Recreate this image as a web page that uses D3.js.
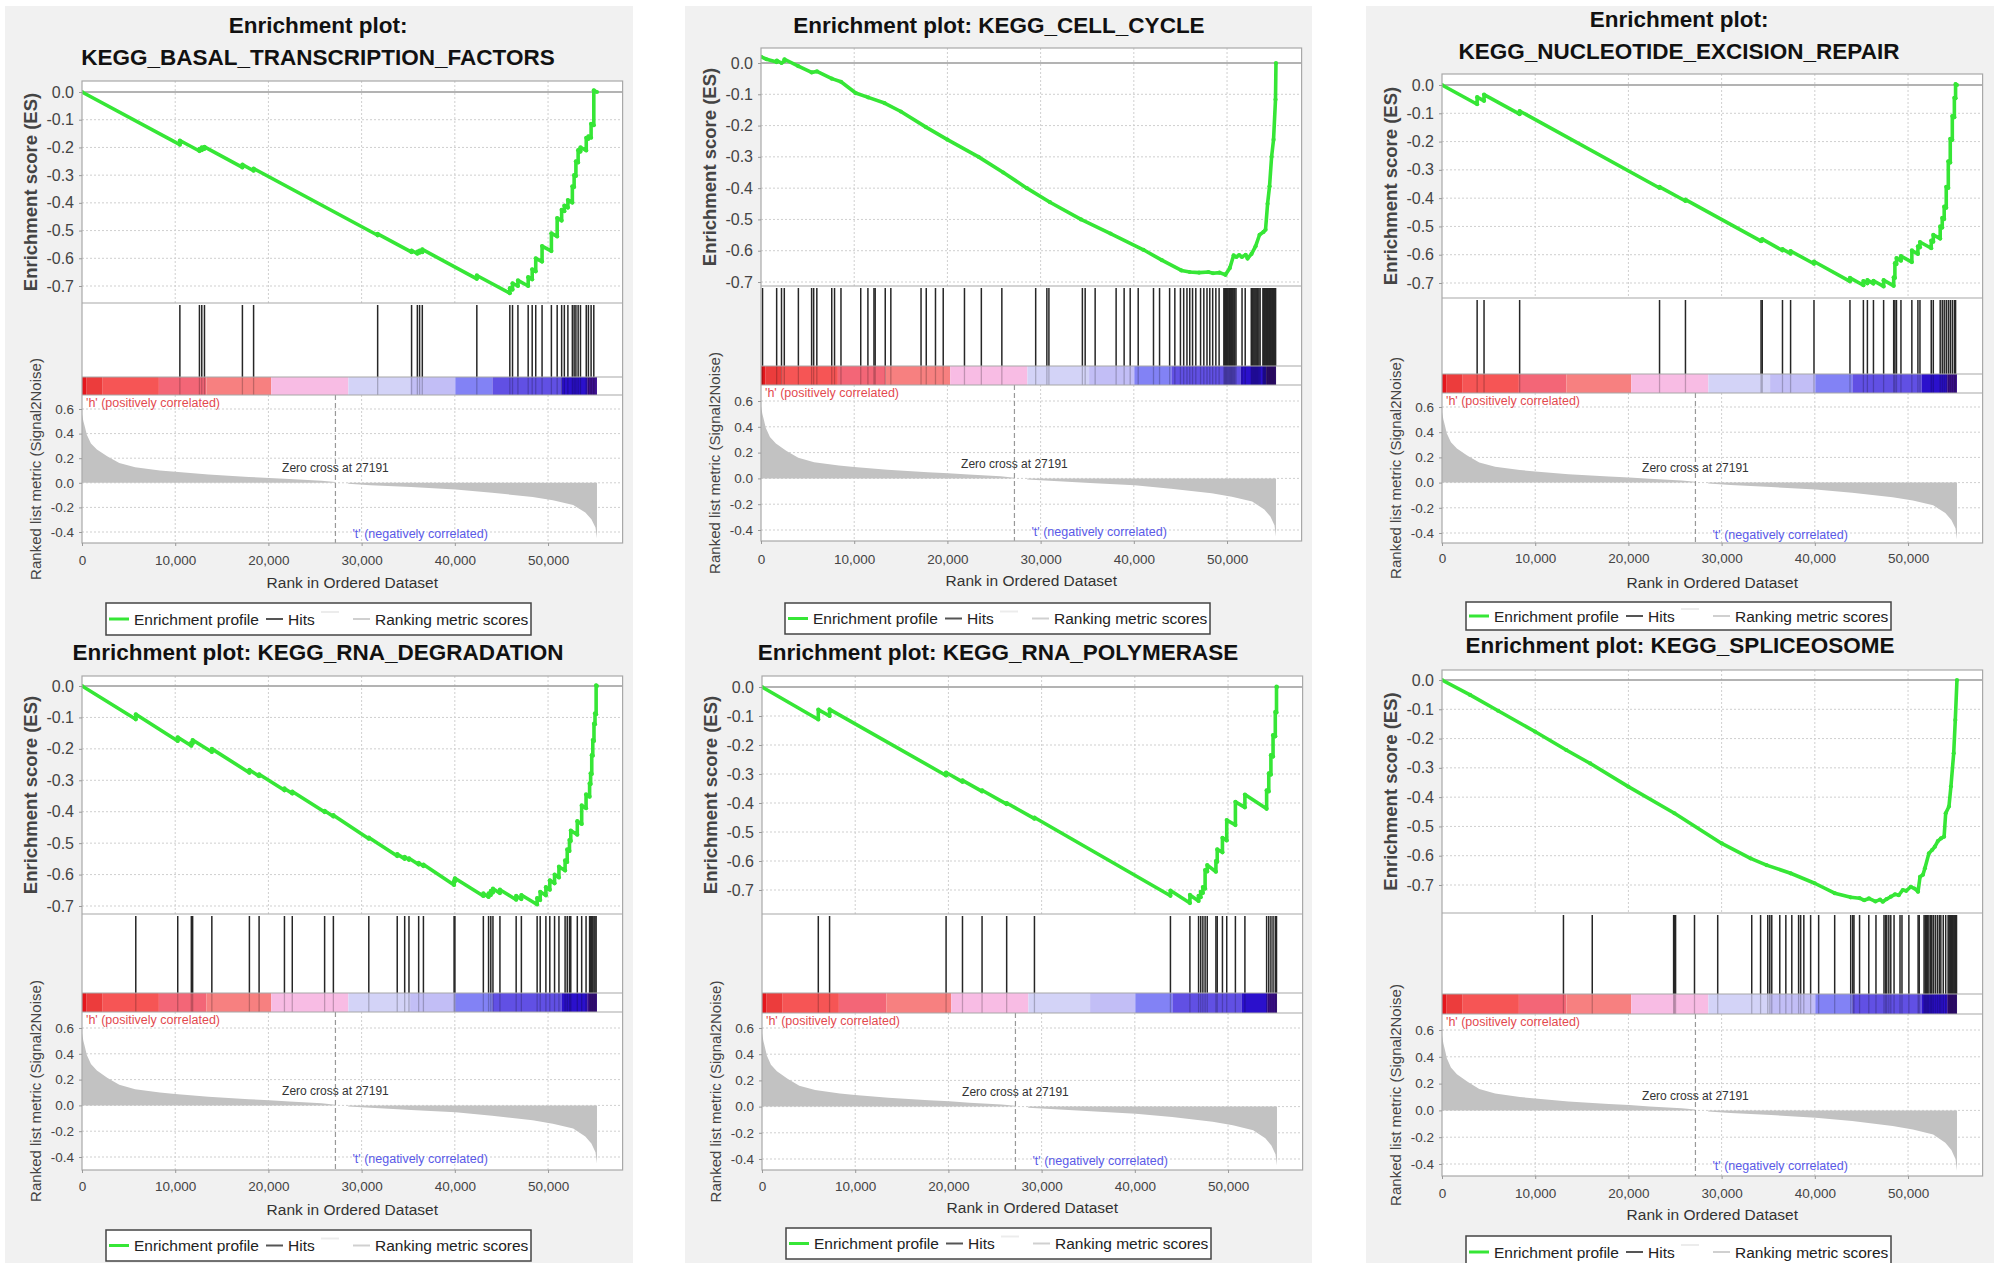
<!DOCTYPE html>
<html><head><meta charset="utf-8">
<script src="https://cdn.jsdelivr.net/npm/d3@7"></script>
<style>html,body{margin:0;padding:0;background:#fff;}svg{display:block;}text{font-family:"Liberation Sans",Arial,sans-serif;}</style>
</head><body><svg id="c" width="2008" height="1263"></svg>
<script>
// ---------------- DATA ----------------
const titles = [
  ["Enrichment plot:", "KEGG_BASAL_TRANSCRIPTION_FACTORS"],
  ["Enrichment plot: KEGG_CELL_CYCLE"],
  ["Enrichment plot:", "KEGG_NUCLEOTIDE_EXCISION_REPAIR"],
  ["Enrichment plot: KEGG_RNA_DEGRADATION"],
  ["Enrichment plot: KEGG_RNA_POLYMERASE"],
  ["Enrichment plot: KEGG_SPLICEOSOME"]
];
const nGenes = 55250;
const zeroCross = 27191;
const xTicks = [0, 10000, 20000, 30000, 40000, 50000];
const esTicks = [0, -0.1, -0.2, -0.3, -0.4, -0.5, -0.6, -0.7];
const metricTicks = [0.6, 0.4, 0.2, 0, -0.2, -0.4];
const legendItems = ["Enrichment profile", "Hits", "Ranking metric scores"];

const es1 = [[0,0],[10500,-0.190],[10500,-0.175],[12600,-0.213],[12600,-0.205],[12850,-0.210],[12850,-0.200],[13140,-0.205],[13140,-0.198],[17210,-0.272],[17210,-0.262],[18410,-0.284],[18410,-0.276],[31720,-0.517],[31720,-0.512],[35360,-0.578],[35360,-0.572],[35980,-0.583],[35980,-0.576],[36220,-0.580],[36220,-0.572],[36510,-0.578],[36510,-0.568],[42360,-0.674],[42360,-0.662],[45900,-0.726],[45900,-0.708],[46190,-0.713],[46190,-0.690],[46770,-0.700],[46770,-0.680],[47870,-0.700],[47870,-0.668],[48300,-0.676],[48300,-0.640],[48680,-0.647],[48680,-0.600],[49360,-0.612],[49360,-0.556],[50360,-0.574],[50360,-0.510],[50980,-0.521],[50980,-0.455],[51460,-0.464],[51460,-0.425],[51750,-0.430],[51750,-0.410],[52130,-0.417],[52130,-0.390],[52610,-0.399],[52610,-0.340],[52800,-0.343],[52800,-0.300],[52990,-0.303],[52990,-0.250],[53230,-0.254],[53230,-0.210],[53480,-0.215],[53480,-0.200],[54100,-0.211],[54100,-0.165],[54330,-0.169],[54330,-0.160],[54620,-0.165],[54620,-0.115],[54910,-0.120],[54910,0.006],[55250,0]];
const es2 = [[0,0.02],[600,0.012],[1680,0.003],[1700,0.008],[2200,0.0],[2500,0.006],[2520,0.012],[4000,-0.01],[5430,-0.03],[6000,-0.027],[7600,-0.05],[8580,-0.06],[10160,-0.096],[11500,-0.11],[13250,-0.128],[15000,-0.155],[17700,-0.205],[20000,-0.245],[23340,-0.3],[26000,-0.35],[28520,-0.4],[31000,-0.445],[34330,-0.5],[37500,-0.545],[41030,-0.597],[43000,-0.63],[45100,-0.663],[46000,-0.668],[47000,-0.67],[48000,-0.668],[48500,-0.672],[49200,-0.67],[49830,-0.677],[50300,-0.655],[50700,-0.615],[51000,-0.62],[51300,-0.614],[51600,-0.62],[52000,-0.613],[52200,-0.625],[52630,-0.61],[53060,-0.586],[53490,-0.549],[53910,-0.54],[54130,-0.533],[54350,-0.45],[54560,-0.394],[54780,-0.3],[54990,-0.245],[55200,-0.117],[55250,0]];
const es3 = [[0,0],[3770,-0.068],[3770,-0.043],[4510,-0.056],[4510,-0.034],[8330,-0.103],[8330,-0.092],[23340,-0.364],[23340,-0.360],[26120,-0.410],[26120,-0.405],[34230,-0.552],[34230,-0.548],[34360,-0.550],[34360,-0.545],[36530,-0.585],[36530,-0.580],[37400,-0.596],[37400,-0.587],[39910,-0.632],[39910,-0.624],[43770,-0.694],[43770,-0.682],[45210,-0.708],[45210,-0.693],[45640,-0.701],[45640,-0.690],[46290,-0.702],[46290,-0.692],[47380,-0.712],[47380,-0.690],[48460,-0.710],[48460,-0.680],[48590,-0.682],[48590,-0.630],[48760,-0.633],[48760,-0.612],[49240,-0.621],[49240,-0.605],[50410,-0.626],[50410,-0.585],[51060,-0.597],[51060,-0.570],[51280,-0.574],[51280,-0.555],[52490,-0.577],[52490,-0.550],[52710,-0.554],[52710,-0.530],[53450,-0.543],[53450,-0.500],[53670,-0.504],[53670,-0.470],[53880,-0.474],[53880,-0.430],[54100,-0.434],[54100,-0.360],[54320,-0.364],[54320,-0.270],[54530,-0.274],[54530,-0.190],[54750,-0.194],[54750,-0.110],[54970,-0.114],[54970,-0.045],[55100,-0.047],[55100,0.003],[55250,0]];
const es4 = [[0,0],[5770,-0.106],[5770,-0.090],[10270,-0.175],[10270,-0.163],[11730,-0.190],[11730,-0.180],[11870,-0.183],[11870,-0.172],[13930,-0.210],[13930,-0.200],[17960,-0.276],[17960,-0.267],[19000,-0.287],[19000,-0.281],[21720,-0.332],[21720,-0.326],[22560,-0.342],[22560,-0.336],[26030,-0.401],[26030,-0.397],[26970,-0.415],[26970,-0.411],[30770,-0.486],[30770,-0.482],[33820,-0.541],[33820,-0.535],[34620,-0.550],[34620,-0.544],[35080,-0.553],[35080,-0.548],[36120,-0.568],[36120,-0.563],[36630,-0.573],[36630,-0.568],[39920,-0.633],[39920,-0.620],[40010,-0.622],[40010,-0.612],[43060,-0.668],[43060,-0.660],[43620,-0.671],[43620,-0.660],[43860,-0.665],[43860,-0.652],[44090,-0.657],[44090,-0.645],[44840,-0.659],[44840,-0.648],[46580,-0.680],[46580,-0.668],[47140,-0.678],[47140,-0.665],[48830,-0.695],[48830,-0.675],[49160,-0.681],[49160,-0.655],[49770,-0.666],[49770,-0.640],[50190,-0.648],[50190,-0.618],[50700,-0.628],[50700,-0.600],[51170,-0.609],[51170,-0.575],[51830,-0.587],[51830,-0.555],[52060,-0.560],[52060,-0.520],[52300,-0.525],[52300,-0.490],[52440,-0.493],[52440,-0.460],[53140,-0.473],[53140,-0.430],[53610,-0.439],[53610,-0.380],[54080,-0.389],[54080,-0.345],[54460,-0.352],[54460,-0.310],[54570,-0.312],[54570,-0.278],[54690,-0.280],[54690,-0.220],[54800,-0.222],[54800,-0.172],[54930,-0.175],[54930,-0.120],[55040,-0.122],[55040,-0.087],[55160,-0.090],[55160,0.002],[55250,0]];
const es5 = [[0,0],[6040,-0.112],[6040,-0.078],[7250,-0.100],[7250,-0.077],[19750,-0.305],[19750,-0.295],[21510,-0.327],[21510,-0.322],[23610,-0.360],[23610,-0.356],[26250,-0.404],[26250,-0.400],[29230,-0.454],[29230,-0.450],[43820,-0.720],[43820,-0.702],[45910,-0.745],[45910,-0.717],[46840,-0.738],[46840,-0.720],[47070,-0.725],[47070,-0.706],[47300,-0.710],[47300,-0.690],[47540,-0.695],[47540,-0.631],[47770,-0.636],[47770,-0.614],[48700,-0.637],[48700,-0.600],[48840,-0.603],[48840,-0.560],[49400,-0.570],[49400,-0.520],[49860,-0.529],[49860,-0.459],[50790,-0.476],[50790,-0.396],[51810,-0.415],[51810,-0.371],[54140,-0.420],[54140,-0.356],[54370,-0.360],[54370,-0.298],[54600,-0.302],[54600,-0.235],[54830,-0.240],[54830,-0.166],[55070,-0.170],[55070,-0.086],[55200,-0.088],[55200,0.001],[55250,0]];
const es6 = [[0,0],[3010,-0.051],[6020,-0.105],[9970,-0.176],[13330,-0.239],[15910,-0.285],[19990,-0.364],[24940,-0.455],[30010,-0.558],[33100,-0.609],[34820,-0.632],[37400,-0.66],[39980,-0.694],[42130,-0.728],[43850,-0.742],[44800,-0.745],[45300,-0.752],[45800,-0.746],[46500,-0.756],[47000,-0.75],[47290,-0.757],[47700,-0.748],[48150,-0.74],[48600,-0.732],[49000,-0.735],[49440,-0.717],[49800,-0.72],[50300,-0.706],[50700,-0.712],[51070,-0.723],[51290,-0.672],[51600,-0.665],[51810,-0.643],[52240,-0.592],[52600,-0.58],[52880,-0.569],[53200,-0.55],[53530,-0.541],[53870,-0.535],[54040,-0.455],[54390,-0.432],[54600,-0.364],[54900,-0.25],[55070,-0.137],[55250,0]];
const esSeries = [es1, es2, es3, es4, es5, es6];

const hits1 = [10500,12600,12850,13140,17210,18410,31720,35360,35980,36220,36510,42360,45900,46190,46770,47870,48300,48680,49360,50360,50980,51460,51750,52130,52610,52800,52990,53230,53480,54100,54330,54620,54910];
const hits2 = [164,1680,2200,2500,4010,5430,5650,5990,7590,7890,8580,10700,11470,12120,12250,13330,13930,17170,17730,18720,19550,21830,23640,25840,29470,30670,30890,34480,34780,35850,38100,38960,39610,40470,42110,42760,43840,44400,45000,45350,45700,46000,46300,46650,47160,47510,47850,48150,48460,48800,49150,49660,49750,49840,49930,50020,50110,50200,50290,50380,50470,50560,50650,50740,50830,50960,51610,51950,52600,52700,52800,52900,53000,53100,53200,53300,53420,53550,53850,53930,54010,54090,54170,54250,54330,54410,54490,54570,54650,54730,54810,54890,54970,55050,55130,55210];
const hits3 = [3770,4510,8330,23340,26120,34230,34360,36530,37400,39910,43770,45210,45640,46290,47380,48460,48590,48760,49240,50410,51060,51280,52490,52710,53450,53670,53880,54100,54320,54530,54750,54970,55100];
const hits4 = [5770,10270,11730,11870,13930,17960,19000,21720,22560,26030,26970,30770,33820,34620,35080,36120,36630,39920,40010,43060,43620,43860,44090,44840,46580,47140,48830,49160,49770,50190,50700,51170,51830,52060,52300,52440,53140,53610,54080,54460,54570,54690,54800,54930,55040,55160];
const hits5 = [6040,7250,19750,21510,23610,26250,29230,43820,45910,46840,47070,47300,47540,47770,48700,48840,49400,49860,50790,51810,54140,54370,54600,54830,55070,55200];
const hits6 = [13030,16120,24850,24940,25060,27090,29580,33230,34180,34950,35170,35380,36240,36890,37530,38260,38480,38820,39550,40410,42130,43850,44070,44200,44800,45790,46560,47420,47590,47720,47940,48150,48500,49140,49350,50090,51080,51200,51720,51850,51980,52110,52240,52410,52540,52710,52920,53140,53350,53520,53780,54040,54300,54390,54480,54570,54660,54750,54840,54930,55020,55110,55200];
const hitSeries = [hits1, hits2, hits3, hits4, hits5, hits6];

const rankedMetric = [[0,0.56],[150,0.5],[300,0.457],[520,0.39],[960,0.32],[1600,0.27],[2700,0.215],[4000,0.16],[5700,0.126],[8350,0.1],[10000,0.089],[13560,0.067],[17900,0.048],[20100,0.04],[22260,0.03],[25700,0.016],[27191,0.006],[27191,0],[28560,0],[28560,-0.008],[30960,-0.019],[35300,-0.035],[40090,-0.054],[44000,-0.08],[48350,-0.116],[50520,-0.142],[52700,-0.18],[54000,-0.242],[54650,-0.296],[55090,-0.363],[55250,-0.45]];

const colorBands = [[0,500,"#e4161c"],[500,2220,"#ec3c3c"],[2220,8250,"#f65555"],[8250,13350,"#f36677"],[13350,20300,"#f78080"],[20300,28580,"#f8bce4"],[28580,35200,"#d3d3f7"],[35200,40050,"#c2bef6"],[40050,44030,"#8282f5"],[44030,51440,"#6150e4"],[51440,54200,"#2b10cc"],[54200,55250,"#3d1090"]];

// ---------------- LAYOUT (positions only) ----------------
const layout = [
  {L:82,  esTop:81,  y0:92,  y7:286, esBot:303, hitsBot:377, barBot:395, m6:409,  m4:532,  rBot:543,  tickY:565,  titleY:588,  legTop:603,  legH:32, ty:[33,65], tcx:318},
  {L:761, esTop:48,  y0:63,  y7:282, esBot:286, hitsBot:366, barBot:385, m6:401,  m4:530,  rBot:541,  tickY:564,  titleY:586,  legTop:603,  legH:31, ty:[33],    tcx:999},
  {L:1442,esTop:74,  y0:85,  y7:283, esBot:298, hitsBot:374, barBot:393, m6:407,  m4:533,  rBot:543,  tickY:563,  titleY:588,  legTop:602,  legH:28, ty:[27,59], tcx:1679},
  {L:82,  esTop:676, y0:686, y7:906, esBot:914, hitsBot:993, barBot:1012,m6:1028, m4:1157, rBot:1170, tickY:1191, titleY:1215, legTop:1230, legH:31, ty:[660],   tcx:318},
  {L:762, esTop:676, y0:687, y7:890, esBot:914, hitsBot:993, barBot:1013,m6:1028, m4:1159, rBot:1170, tickY:1191, titleY:1213, legTop:1228, legH:31, ty:[660],   tcx:998},
  {L:1442,esTop:670, y0:680, y7:885, esBot:913, hitsBot:994, barBot:1014,m6:1030, m4:1164, rBot:1176, tickY:1198, titleY:1220, legTop:1236, legH:32, ty:[653],   tcx:1680}
];
const columnsBg = [[5,633],[685,1312],[1366,1994]];
const xMax = 58000, plotW = 540.6;

// ---------------- DRAW ----------------
const svg = d3.select("#c");
svg.append("rect").attr("width",2008).attr("height",1263).attr("fill","#fff");
columnsBg.forEach(c => svg.append("rect").attr("x",c[0]).attr("y",6).attr("width",c[1]-c[0]).attr("height",1263-6).attr("fill","#f1f1f1"));

const GREEN = "#36e636", GRID = "#cfcfcf";
const fmtES = d => d.toFixed(1);

function drawPanel(i){
  const P = layout[i];
  const g = svg.append("g");
  const R = P.L + plotW;
  const x = d3.scaleLinear().domain([0, xMax]).range([P.L, R]);
  const yE = d3.scaleLinear().domain([0, -0.7]).range([P.y0, P.y7]);
  const yM = d3.scaleLinear().domain([0.6, -0.4]).range([P.m6, P.m4]);

  titles[i].forEach((t,k) => g.append("text").attr("x",P.tcx).attr("y",P.ty[k]).attr("text-anchor","middle")
    .attr("font-size",22.5).attr("font-weight","bold").attr("fill","#111").text(t));

  g.append("rect").attr("x",P.L).attr("y",P.esTop).attr("width",plotW).attr("height",P.rBot-P.esTop).attr("fill","#fff");

  esTicks.filter(v => v !== 0).forEach(v => g.append("line").attr("x1",P.L).attr("x2",R).attr("y1",yE(v)).attr("y2",yE(v))
    .attr("stroke",GRID).attr("stroke-dasharray","2,2"));
  xTicks.filter(v => v > 0).forEach(v => {
    g.append("line").attr("x1",x(v)).attr("x2",x(v)).attr("y1",P.esTop).attr("y2",P.esBot).attr("stroke",GRID).attr("stroke-dasharray","2,2");
    g.append("line").attr("x1",x(v)).attr("x2",x(v)).attr("y1",P.barBot).attr("y2",P.rBot).attr("stroke",GRID).attr("stroke-dasharray","2,2");
  });
  metricTicks.forEach(v => g.append("line").attr("x1",P.L).attr("x2",R).attr("y1",yM(v)).attr("y2",yM(v))
    .attr("stroke",GRID).attr("stroke-dasharray","2,2"));
  g.append("line").attr("x1",P.L).attr("x2",R).attr("y1",yE(0)).attr("y2",yE(0)).attr("stroke","#9a9a9a").attr("stroke-width",1.5);

  const clipId = "clipES" + i;
  svg.append("clipPath").attr("id",clipId).append("rect").attr("x",P.L).attr("y",P.esTop).attr("width",plotW).attr("height",P.esBot-P.esTop);
  const eg = g.append("g").attr("clip-path",`url(#${clipId})`);
  const line = d3.line().x(d => x(d[0])).y(d => yE(d[1]));
  eg.append("path").datum(esSeries[i]).attr("d",line).attr("fill","none").attr("stroke",GREEN).attr("stroke-width",3.6).attr("stroke-linejoin","round");
  eg.selectAll("circle").data(esSeries[i]).join("circle").attr("cx",d => x(d[0])).attr("cy",d => yE(d[1])).attr("r",2.1).attr("fill",GREEN);

  g.selectAll("line.hit").data(hitSeries[i]).join("line").attr("class","hit")
    .attr("x1",d => x(d)).attr("x2",d => x(d)).attr("y1",P.esBot+2).attr("y2",P.hitsBot)
    .attr("stroke","#262626").attr("stroke-width",1.5);

  g.selectAll("rect.band").data(colorBands).join("rect").attr("class","band")
    .attr("x",d => x(d[0])).attr("width",d => x(d[1]) - x(d[0])).attr("y",P.hitsBot).attr("height",P.barBot-P.hitsBot).attr("fill",d => d[2]);
  g.selectAll("line.hitbar").data(hitSeries[i]).join("line").attr("class","hitbar")
    .attr("x1",d => x(d)).attr("x2",d => x(d)).attr("y1",P.hitsBot).attr("y2",P.barBot)
    .attr("stroke","#000").attr("stroke-opacity",0.22).attr("stroke-width",1.3);

  const area = d3.area().x(d => x(d[0])).y0(yM(0)).y1(d => yM(d[1]));
  g.append("path").datum(rankedMetric).attr("d",area).attr("fill","#c2c2c2");
  g.append("line").attr("x1",x(zeroCross)).attr("x2",x(zeroCross)).attr("y1",P.barBot).attr("y2",P.rBot)
    .attr("stroke","#999").attr("stroke-width",1.2).attr("stroke-dasharray","5,3");
  g.append("text").attr("x",P.L+4).attr("y",P.barBot+12).attr("font-size",12.5).attr("fill","#e34a4f").text("'h' (positively correlated)");
  g.append("text").attr("x",x(zeroCross)).attr("y",yM(0)-10.5).attr("text-anchor","middle").attr("font-size",12).attr("fill","#333").text("Zero cross at " + zeroCross);
  g.append("text").attr("x",x(zeroCross)+17).attr("y",yM(-0.4)+6).attr("font-size",12.5).attr("fill","#5a5ae8").text("'t' (negatively correlated)");

  g.append("rect").attr("x",P.L).attr("y",P.esTop).attr("width",plotW).attr("height",P.rBot-P.esTop).attr("fill","none").attr("stroke","#a8a8a8").attr("stroke-width",1.2);
  [P.esBot, P.hitsBot, P.barBot].forEach(yv => g.append("line").attr("x1",P.L).attr("x2",R).attr("y1",yv).attr("y2",yv).attr("stroke","#a8a8a8").attr("stroke-width",1.2));

  const ax1 = g.append("g").attr("transform",`translate(${P.L},0)`).call(d3.axisLeft(yE).tickValues(esTicks).tickFormat(fmtES).tickSize(3).tickPadding(5));
  ax1.select(".domain").remove();
  ax1.selectAll("line").attr("stroke","#999");
  ax1.selectAll("text").attr("font-size",16).attr("fill","#444").attr("font-family",null);
  const ax2 = g.append("g").attr("transform",`translate(${P.L},0)`).call(d3.axisLeft(yM).tickValues(metricTicks).tickFormat(fmtES).tickSize(3).tickPadding(5));
  ax2.select(".domain").remove();
  ax2.selectAll("line").attr("stroke","#999");
  ax2.selectAll("text").attr("font-size",13.5).attr("fill","#444").attr("font-family",null);
  const ax3 = g.append("g").attr("transform",`translate(0,${P.rBot})`).call(d3.axisBottom(x).tickValues(xTicks).tickFormat(d3.format(",")).tickSize(3));
  ax3.select(".domain").remove();
  ax3.selectAll("line").attr("stroke","#999");
  ax3.selectAll("text").attr("font-size",13.5).attr("fill","#444").attr("font-family",null).attr("y",P.tickY - P.rBot).attr("dy",0);

  g.append("text").attr("transform",`translate(${P.L-51},${(P.esTop+P.esBot)/2}) rotate(-90)`).attr("dy","0.35em")
    .attr("text-anchor","middle").attr("font-size",18.5).attr("font-weight","bold").attr("fill","#444").text("Enrichment score (ES)");
  g.append("text").attr("transform",`translate(${P.L-46},${(P.barBot+P.rBot)/2}) rotate(-90)`).attr("dy","0.35em")
    .attr("text-anchor","middle").attr("font-size",15).attr("fill","#444").text("Ranked list metric (Signal2Noise)");
  g.append("text").attr("x",(P.L+R)/2).attr("y",P.titleY).attr("text-anchor","middle").attr("font-size",15.5).attr("fill","#333").text("Rank in Ordered Dataset");

  const lx = P.L + 24, ly = P.legTop, cy = ly + P.legH/2;
  g.append("rect").attr("x",lx).attr("y",ly).attr("width",425).attr("height",P.legH).attr("fill","#fff").attr("stroke","#444").attr("stroke-width",1.5);
  g.append("line").attr("x1",lx+3).attr("x2",lx+23).attr("y1",cy).attr("y2",cy).attr("stroke",GREEN).attr("stroke-width",3);
  g.append("text").attr("x",lx+28).attr("y",cy+5.5).attr("font-size",15.5).attr("fill","#222").text(legendItems[0]);
  g.append("line").attr("x1",lx+160).attr("x2",lx+177).attr("y1",cy).attr("y2",cy).attr("stroke","#555").attr("stroke-width",2);
  g.append("text").attr("x",lx+182).attr("y",cy+5.5).attr("font-size",15.5).attr("fill","#222").text(legendItems[1]);
  g.append("line").attr("x1",lx+215).attr("x2",lx+233).attr("y1",cy-7).attr("y2",cy-7).attr("stroke","#ececec").attr("stroke-width",2);
  g.append("line").attr("x1",lx+247).attr("x2",lx+264).attr("y1",cy).attr("y2",cy).attr("stroke","#d0d0d0").attr("stroke-width",2);
  g.append("text").attr("x",lx+269).attr("y",cy+5.5).attr("font-size",15.5).attr("fill","#222").text(legendItems[2]);
}
layout.forEach((_, i) => drawPanel(i));
</script>
</body></html>
